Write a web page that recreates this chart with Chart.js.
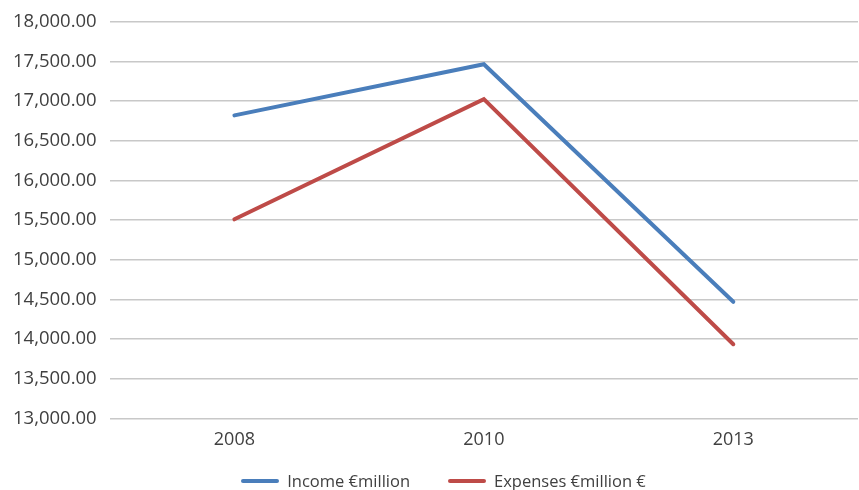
<!DOCTYPE html>
<html>
<head>
<meta charset="utf-8">
<script src="https://cdn.jsdelivr.net/npm/chart.js@4/dist/chart.umd.min.js"></script>
<style>
  html, body { margin: 0; padding: 0; background: #fff; }
  #wrap { width: 859px; height: 490px; position: relative; }
  #legend {
    position: absolute; left: 28px; right: 0; top: 469px;
    display: flex; justify-content: center; gap: 38px;
    font: 16.5px 'Open Sans', 'Liberation Sans', sans-serif; color: #404040;
  }
  #legend .item { display: flex; align-items: center; gap: 8px; }
  #legend .swatch { width: 38px; height: 4px; border-radius: 2px; }
</style>
</head>
<body>
<div id="wrap">
  <canvas id="chart"></canvas>
  <div id="legend"></div>
</div>
<script>
const years    = ['2008', '2010', '2013'];
const income   = [16820, 17465, 14470];
const expenses = [15510, 17025, 13935];
const seriesNames = ['Income €million', 'Expenses €million €'];
const yMin = 13000, yMax = 18000, yStep = 500;

const textColor = '#404040';
const fontFamily = "'Open Sans', 'Liberation Sans', sans-serif";
const colors = ['#4A7EBB', '#BE4B48'];

const chart = new Chart(document.getElementById('chart'), {
  type: 'line',
  data: {
    labels: years,
    datasets: [
      { label: seriesNames[0], data: income,   borderColor: colors[0], backgroundColor: colors[0],
        borderWidth: 4, pointRadius: 0, tension: 0, borderCapStyle: 'round' },
      { label: seriesNames[1], data: expenses, borderColor: colors[1], backgroundColor: colors[1],
        borderWidth: 4, pointRadius: 0, tension: 0, borderCapStyle: 'round' },
    ],
  },
  options: {
    responsive: true,
    maintainAspectRatio: false,
    animation: false,
    layout: { padding: { top: 0, right: 1, left: 0, bottom: 36 } },
    plugins: {
      tooltip: { enabled: false },
      legend: { display: false },
    },
    scales: {
      x: {
        offset: true,
        grid: { display: false },
        border: { display: false },
        ticks: { color: textColor, font: { family: fontFamily, size: 18 }, padding: 3 },
      },
      y: {
        min: yMin,
        max: yMax,
        border: { display: false },
        grid: { color: '#C8C8C8', lineWidth: 1.5, drawTicks: false },
        ticks: {
          stepSize: yStep,
          padding: 13,
          color: textColor,
          font: { family: fontFamily, size: 18.5, lineHeight: 0.95 },
          callback: v => v.toLocaleString('en-US', { minimumFractionDigits: 2, maximumFractionDigits: 2 }),
        },
      },
    },
  },
});

// legend as plain html under the plot
const legendEl = document.getElementById('legend');
chart.data.datasets.forEach(ds => {
  const item = document.createElement('div');
  item.className = 'item';
  item.innerHTML = `<span class="swatch" style="background:${ds.borderColor}"></span><span>${ds.label}</span>`;
  legendEl.appendChild(item);
});
</script>
</body>
</html>
